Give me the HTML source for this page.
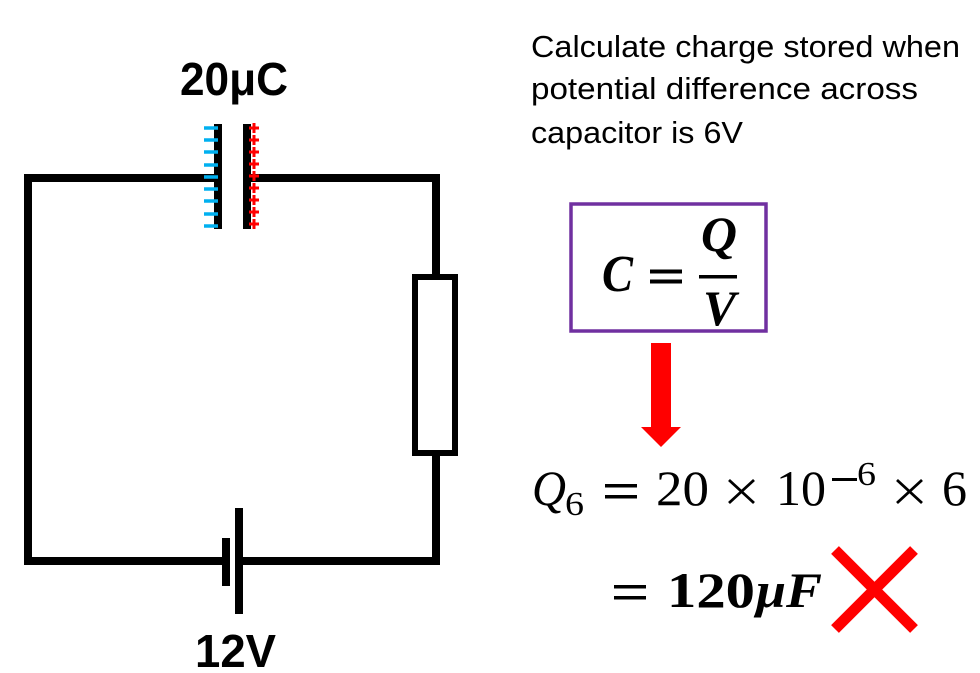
<!DOCTYPE html>
<html>
<head>
<meta charset="utf-8">
<style>
html,body{margin:0;padding:0;background:#fff;width:980px;height:673px;overflow:hidden}
svg{display:block}
.s{font-family:"Liberation Sans",sans-serif;font-size:31px;fill:#000}
.b{font-family:"Liberation Sans",sans-serif;font-size:46px;font-weight:bold;fill:#000}
.m{font-family:"Liberation Serif",serif;font-size:50px;fill:#000}
.mb{font-family:"Liberation Serif",serif;font-size:50px;font-weight:bold;fill:#000}
</style>
</head>
<body>
<svg width="980" height="673" viewBox="0 0 980 673" xmlns="http://www.w3.org/2000/svg">
<rect width="980" height="673" fill="#fff"/>
<!-- circuit wire -->
<path d="M218 178H28V561H226M240 561H436V178H247" fill="none" stroke="#000" stroke-width="8"/>
<!-- resistor -->
<rect x="415" y="277" width="40" height="176" fill="#fff" stroke="#000" stroke-width="6"/>
<!-- cell -->
<rect x="222" y="538" width="8" height="48" fill="#000"/>
<rect x="235" y="508" width="8" height="106" fill="#000"/>
<!-- capacitor plates -->
<rect x="214" y="124" width="8" height="105" fill="#000"/>
<rect x="243" y="124" width="8" height="105" fill="#000"/>
<!-- negative charges -->
<path d="M204 128H218M204 140H218M204 152H218M204 165H218M204 177H218M204 189H218M204 201H218M204 214H218M204 226H218" stroke="#00b0f0" stroke-width="3.5" fill="none"/>
<!-- positive charges -->
<path d="M249 128H259M254 123V133M249 140H259M254 135V145M249 152H259M254 147V157M249 164H259M254 159V169M249 176H259M254 171V181M249 188H259M254 183V193M249 200H259M254 195V205M249 212H259M254 207V217M249 224H259M254 219V229" stroke="#f00" stroke-width="3" fill="none"/>
<!-- labels -->
<text class="b" x="180" y="95" textLength="108" lengthAdjust="spacingAndGlyphs">20μC</text>
<text class="b" x="195" y="667" textLength="81" lengthAdjust="spacingAndGlyphs">12V</text>
<text class="s" x="531" y="57" textLength="429" lengthAdjust="spacingAndGlyphs">Calculate charge stored when</text>
<text class="s" x="531" y="99" textLength="387" lengthAdjust="spacingAndGlyphs">potential difference across</text>
<text class="s" x="531" y="143" textLength="212" lengthAdjust="spacingAndGlyphs">capacitor is 6V</text>
<!-- formula box -->
<rect x="571" y="204" width="195" height="127" fill="#fff" stroke="#7030a0" stroke-width="3.5"/>
<text class="mb" x="602" y="291" textLength="31" lengthAdjust="spacingAndGlyphs" style="font-style:italic;font-size:52px">C</text>
<rect x="650" y="269.5" width="32" height="4" fill="#000"/>
<rect x="650" y="279.5" width="32" height="4" fill="#000"/>
<text class="mb" x="701" y="251" textLength="36" lengthAdjust="spacingAndGlyphs" style="font-style:italic">Q</text>
<rect x="699" y="275" width="38" height="3.5" fill="#000"/>
<text class="mb" x="703" y="325" textLength="33" lengthAdjust="spacingAndGlyphs" style="font-style:italic">V</text>
<!-- arrow -->
<path d="M651 343H671V427H681L661 447L641 427H651Z" fill="#f00"/>
<!-- equation -->
<text class="m" x="532" y="505" textLength="34" lengthAdjust="spacingAndGlyphs" style="font-style:italic">Q</text>
<text class="m" x="565" y="515" style="font-size:34px" textLength="19" lengthAdjust="spacingAndGlyphs">6</text>
<rect x="605" y="484" width="32" height="3.5" fill="#000"/>
<rect x="605" y="495" width="32" height="3.5" fill="#000"/>
<text class="m" x="656" y="505" textLength="53" lengthAdjust="spacingAndGlyphs">20</text>
<path d="M729 480L754 503M754 480L729 503" stroke="#000" stroke-width="2.8" fill="none"/>
<text class="m" x="776" y="505" textLength="50" lengthAdjust="spacingAndGlyphs">10</text>
<rect x="832" y="478" width="25" height="3" fill="#000"/>
<text class="m" x="857" y="485" style="font-size:34px" textLength="19" lengthAdjust="spacingAndGlyphs">6</text>
<path d="M897 480L922 503M922 480L897 503" stroke="#000" stroke-width="2.8" fill="none"/>
<text class="m" x="942" y="505" textLength="25" lengthAdjust="spacingAndGlyphs">6</text>
<!-- result -->
<rect x="614" y="585" width="32" height="3.5" fill="#000"/>
<rect x="614" y="596" width="32" height="3.5" fill="#000"/>
<text class="mb" x="667" y="607" textLength="88" lengthAdjust="spacingAndGlyphs">120</text>
<text class="mb" x="756" y="607" textLength="66" lengthAdjust="spacingAndGlyphs" style="font-style:italic">μF</text>
<!-- cross -->
<path d="M835 550L914 629M914 550L835 629" stroke="#f00" stroke-width="11" fill="none"/>
</svg>
</body>
</html>
